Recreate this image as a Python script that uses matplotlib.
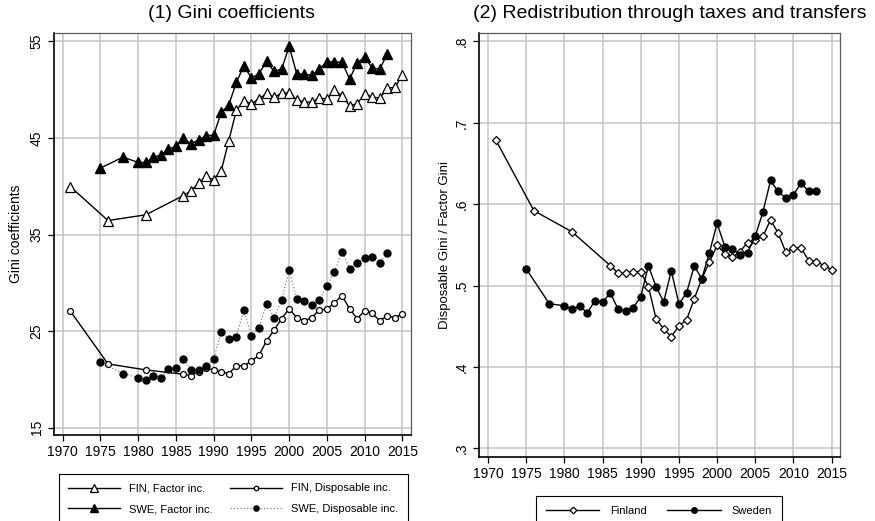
#Gini coefficients for Finland and Sweden, two panel chart
import matplotlib
matplotlib.use('Agg')
import matplotlib.pyplot as plt
import numpy as np

plt.rcParams['font.family'] = ['Liberation Sans', 'DejaVu Sans']

#years for each series
fin_years = [1971, 1976, 1981] + list(range(1986, 2016))
swe_years = [1975, 1978, 1980, 1981, 1982, 1983, 1984, 1985] + list(range(1986, 2014))

#panel (1) values
fin_factor = [39.97, 36.45, 37.04,
              39.04, 39.53, 40.33, 41.01, 40.67, 41.6, 44.71, 47.85, 48.86, 48.54,
              49.06, 49.61, 49.2, 49.65, 49.65, 48.96, 48.72, 48.72, 49.13, 49.03,
              49.92, 49.37, 48.34, 48.54, 49.55, 49.24, 49.13, 50.17, 50.23, 51.52]
fin_disp = [27.09, 21.6, 20.98,
            20.53, 20.39, 20.8, 21.15, 20.98, 20.77, 20.6, 21.39, 21.39, 21.88,
            22.5, 23.98, 25.09, 26.3, 27.3, 26.4, 26.06, 26.4, 27.2, 27.27,
            27.95, 28.68, 27.3, 26.3, 27.09, 26.85, 26.06, 26.61, 26.37, 26.78]
swe_factor = [41.88, 43.02, 42.46, 42.46, 42.98, 43.26, 43.85, 44.12,
              44.95, 44.4, 44.81, 45.23, 45.3, 47.64, 48.41, 50.75, 52.48, 51.21,
              51.65, 52.93, 51.89, 52.14, 54.48, 51.65, 51.62, 51.48, 52.14, 52.9,
              52.86, 52.86, 51.1, 52.76, 53.38, 52.24, 52.14, 53.72]
swe_disp = [21.78, 20.6, 20.18, 19.94, 20.39, 20.18, 21.08, 21.22,
            22.09, 20.98, 20.98, 21.39, 22.09, 24.95, 24.19, 24.4, 27.2, 24.5,
            25.36, 27.79, 26.4, 28.2, 31.34, 28.31, 28.1, 27.68, 28.2, 29.68,
            31.17, 33.24, 31.48, 32.07, 32.59, 32.66, 32.1, 33.07]

#panel (2) values: disposable / factor
fin_ratio = [0.679, 0.592, 0.566,
             0.5246, 0.5152, 0.5152, 0.5172, 0.5164, 0.4988, 0.4594, 0.4467,
             0.4373, 0.4504, 0.4578, 0.4836, 0.5086, 0.5291, 0.5497, 0.539,
             0.5349, 0.5418, 0.5529, 0.5562, 0.5603, 0.5808, 0.5644, 0.541,
             0.546, 0.546, 0.5308, 0.5295, 0.5246, 0.5193]
swe_ratio = [0.5205, 0.4779, 0.475, 0.471, 0.475, 0.4664, 0.4816, 0.4795,
             0.491, 0.4717, 0.4685, 0.4726, 0.4865, 0.5242, 0.4988, 0.48, 0.5181,
             0.4775, 0.491, 0.5238, 0.5086, 0.5406, 0.5767, 0.548, 0.5447,
             0.5381, 0.5406, 0.5607, 0.5903, 0.6292, 0.6156, 0.6075, 0.6116,
             0.626, 0.6156, 0.6156]

x_ticks = list(range(1970, 2016, 5))
left_ticks = [15, 25, 35, 45, 55]
right_ticks = [0.3, 0.4, 0.5, 0.6, 0.7, 0.8]
right_labels = ['.3', '.4', '.5', '.6', '.7', '.8']

grid_col = '#c4c4c4'
frame_col = '#5a5a5a'


def style_axes(ax):
    #stata-like look: black axis lines, grey outline, grid on every tick
    ax.grid(True, color=grid_col, linewidth=1.1)
    ax.set_axisbelow(True)
    for side in ['left', 'bottom']:
        ax.spines[side].set_color('black')
        ax.spines[side].set_linewidth(1.2)
    for side in ['top', 'right']:
        ax.spines[side].set_color(frame_col)
        ax.spines[side].set_linewidth(0.9)
    ax.tick_params(direction='out', length=4, width=0.9, colors='black',
                   labelsize=10)
    ax.set_xticks(x_ticks)
    ax.set_xlim(1968.85, 2016.1)


fig = plt.figure(figsize=(8.75, 5.21), dpi=100)
ax1 = fig.add_axes([0.0617, 0.1651, 0.4077, 0.7721])
ax2 = fig.add_axes([0.5478, 0.1234, 0.4122, 0.8127])

#panel (1)
l1, = ax1.plot(fin_years, fin_factor, color='black', linewidth=1,
               marker='^', markersize=7, markerfacecolor='white',
               markeredgecolor='black', markeredgewidth=0.9)
l2, = ax1.plot(fin_years, fin_disp, color='black', linewidth=1,
               marker='o', markersize=4.3, markerfacecolor='white',
               markeredgecolor='black', markeredgewidth=0.9)
l3, = ax1.plot(swe_years, swe_factor, color='black', linewidth=1,
               marker='^', markersize=7, markerfacecolor='black',
               markeredgecolor='black')
l4, = ax1.plot(swe_years, swe_disp, color='#6a6a6a', linewidth=0.8,
               linestyle=(0, (1, 2)), marker='o', markersize=5,
               markerfacecolor='black', markeredgecolor='black')
style_axes(ax1)
ax1.set_ylim(14.24, 55.9)
ax1.set_yticks(left_ticks)
ax1.set_yticklabels([str(t) for t in left_ticks], rotation=90, va='center')
ax1.set_ylabel('Gini coefficients', fontsize=10, labelpad=5)
fig.text(232 / 875, 1 - 13 / 521, '(1) Gini coefficients',
         fontsize=14, ha='center', va='center')

leg1 = ax1.legend([l1, l3, l2, l4],
                  ['FIN, Factor inc.', 'SWE, Factor inc.',
                   'FIN, Disposable inc.', 'SWE, Disposable inc.'],
                  ncol=2, numpoints=1, fontsize=8, loc='upper left',
                  bbox_to_anchor=(59 / 875, 1 - 474 / 521),
                  bbox_transform=fig.transFigure, borderaxespad=0,
                  fancybox=False, edgecolor='black', framealpha=1,
                  handlelength=4.6, handletextpad=0.85, columnspacing=1.6,
                  labelspacing=0.95, borderpad=0.85, markerscale=0.75)
leg1.get_frame().set_linewidth(0.8)

#panel (2)
r1, = ax2.plot(fin_years, fin_ratio, color='black', linewidth=1,
               marker='D', markersize=4.3, markerfacecolor='white',
               markeredgecolor='black', markeredgewidth=0.9)
r2, = ax2.plot(swe_years, swe_ratio, color='black', linewidth=1,
               marker='o', markersize=5, markerfacecolor='black',
               markeredgecolor='black')
style_axes(ax2)
ax2.set_ylim(0.2897, 0.81)
ax2.set_yticks(right_ticks)
ax2.set_yticklabels(right_labels, rotation=90, va='center')
ax2.set_ylabel('Disposable Gini / Factor Gini', fontsize=9.5, labelpad=3)
fig.text(670 / 875, 1 - 13 / 521, '(2) Redistribution through taxes and transfers',
         fontsize=14, ha='center', va='center')

leg2 = ax2.legend([r1, r2], ['Finland', 'Sweden'], ncol=2, numpoints=1,
                  fontsize=8, loc='upper left',
                  bbox_to_anchor=(536 / 875, 1 - 496 / 521),
                  bbox_transform=fig.transFigure, borderaxespad=0,
                  fancybox=False, edgecolor='black', framealpha=1,
                  handlelength=4.8, handletextpad=1.0, columnspacing=1.8,
                  borderpad=0.9, markerscale=0.8)
leg2.get_frame().set_linewidth(0.8)

fig.savefig('out.png', dpi=100)
